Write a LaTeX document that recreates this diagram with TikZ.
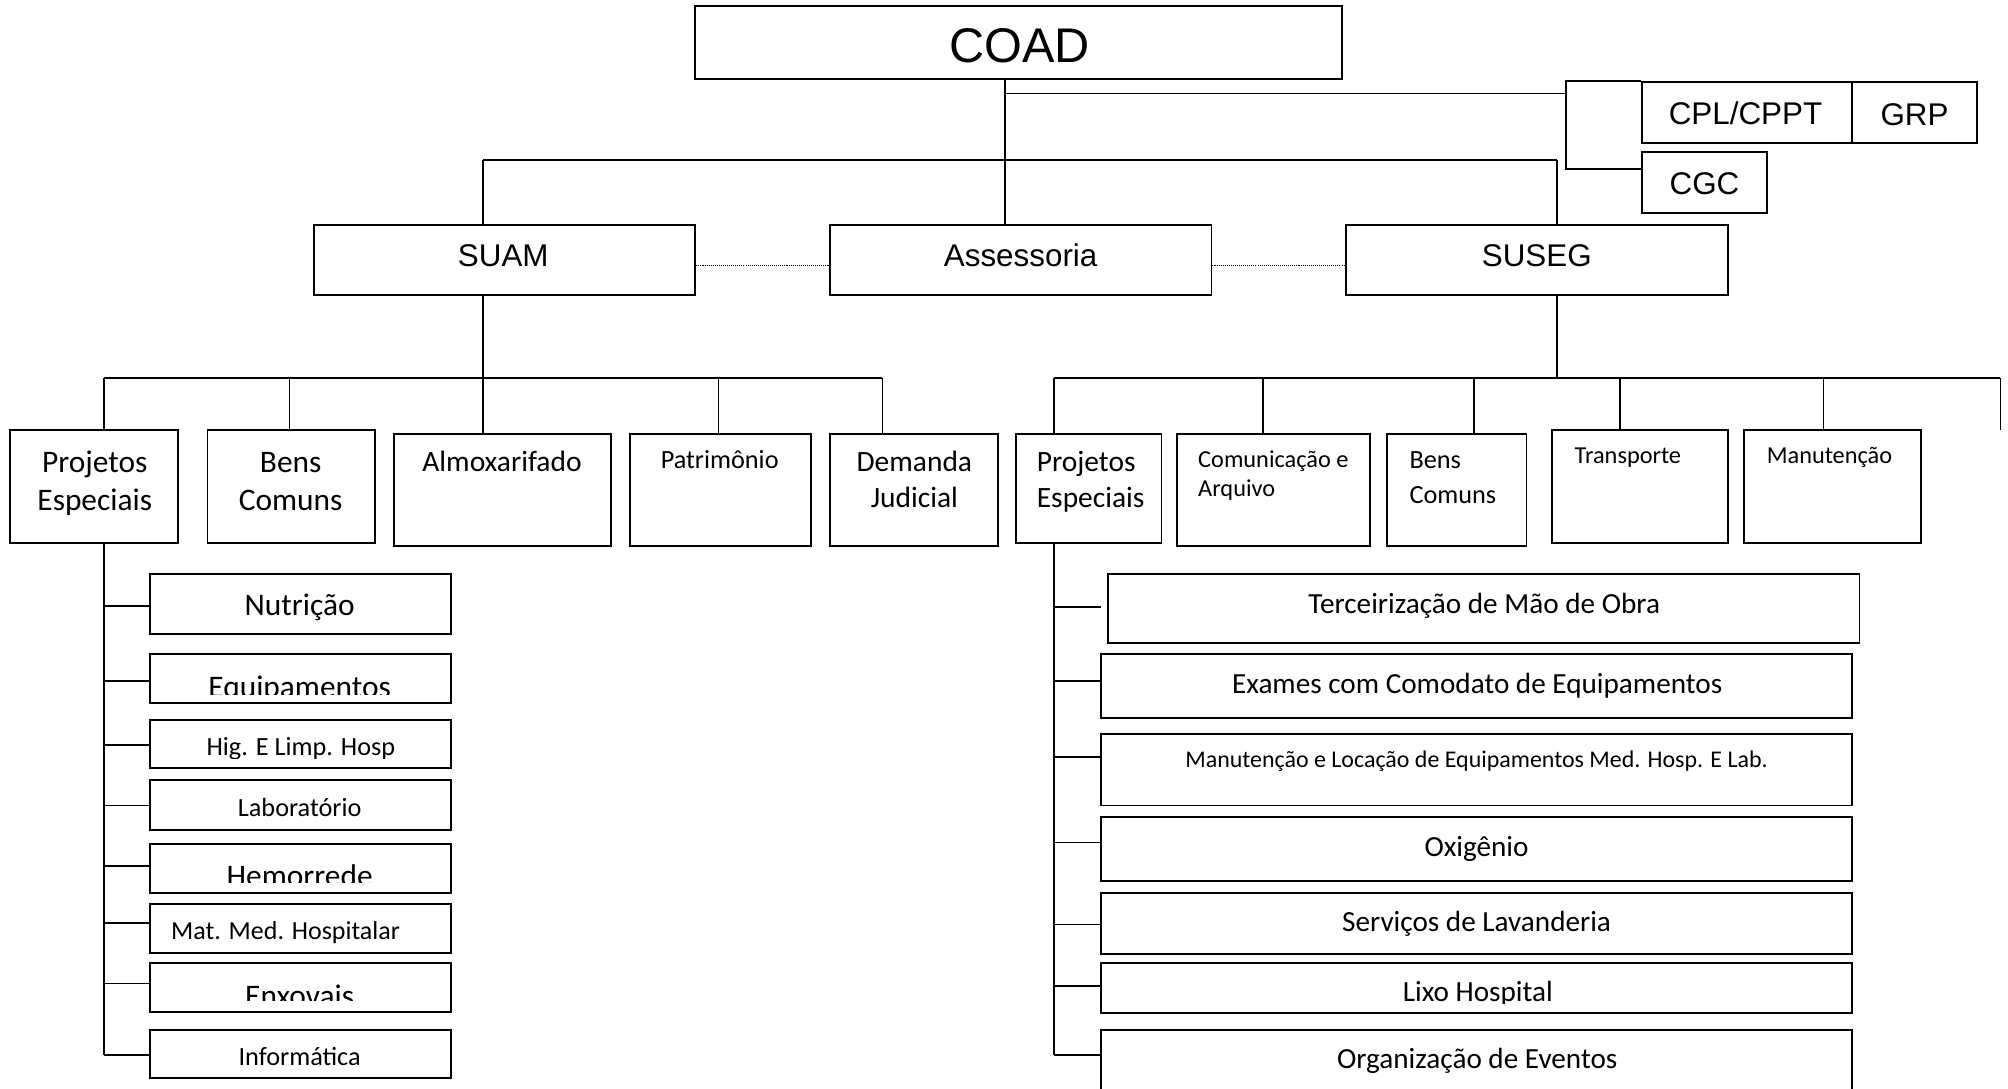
\documentclass[tikz,border=0pt]{standalone}
\usepackage{fontspec}
\setmainfont{Carlito}
\newfontfamily\arialf{Liberation Sans}
\newcommand\mybox[5]{\node[box, minimum width={(#4-#2)*1pt}, minimum height={(#5-#3)*1pt}] (#1) at ({(#2+#4)/2},{(#3+#5)/2}) {};}
\begin{document}
\begin{tikzpicture}[x=1pt,y=-1pt, line width=1.3pt,
  box/.style={draw, line width=1.5pt, inner sep=0pt},
  dots/.style={line width=0.8pt, dash pattern=on 0.8pt off 0.8pt},
  lbl/.style={anchor=base, inner sep=0pt},
  lblw/.style={anchor=base west, inner sep=0pt},
  fA38/.style={font=\arialf\fontsize{38}{44}\selectfont},
  fA/.style={font=\arialf\fontsize{24.5}{29}\selectfont},
  f245/.style={font=\fontsize{24.5}{30}\selectfont},
  f23/.style={font=\fontsize{23}{28}\selectfont},
  f228/.style={font=\fontsize{22.8}{28}\selectfont},
  f205/.style={font=\fontsize{20.5}{25}\selectfont},
  f203/.style={font=\fontsize{20.3}{25}\selectfont},
  f19/.style={font=\fontsize{19}{23}\selectfont},
  f187/.style={font=\fontsize{18.7}{23}\selectfont}]
\useasboundingbox (0,0) rectangle (1568,850);
\clip (0,0) rectangle (1568,850);

% ---- boxes
\mybox{coad}{543}{5}{1048}{62}
\mybox{cpl}{1282}{64}{1446}{112}
\mybox{grp}{1446}{64}{1544}{112}
\mybox{cgc}{1282}{119}{1380}{166}
\mybox{suam}{245}{176}{543}{230}
\mybox{ass}{648}{176}{946}{230}
\mybox{suseg}{1051}{176}{1349}{230}
\mybox{pe1}{8}{336}{139}{424}
\mybox{bc1}{162}{336}{293}{424}
\mybox{alm}{308}{339}{477}{426}
\mybox{pat}{492}{339}{633}{426}
\mybox{dem}{648}{339}{779}{426}
\mybox{pe2}{793}{339}{907}{424}
\mybox{com}{919}{339}{1070}{426}
\mybox{bc2}{1083}{339}{1192}{426}
\mybox{tra}{1212}{336}{1349}{424}
\mybox{man}{1362}{336}{1500}{424}
\mybox{nut}{117}{448}{352}{495}
\mybox{equ}{117}{511}{352}{549}
\mybox{hig}{117}{562}{352}{600}
\mybox{lab}{117}{609}{352}{648}
\mybox{hem}{117}{659}{352}{697}
\mybox{mat}{117}{706}{352}{744}
\mybox{enx}{117}{752}{352}{790}
\mybox{inf}{117}{804}{352}{842}
\mybox{ter}{865}{448}{1452}{502}
\mybox{exa}{860}{511}{1446}{561}
\mybox{mlo}{860}{573}{1446}{629}
\mybox{oxi}{860}{638}{1446}{688}
\mybox{ser}{860}{697}{1446}{745}
\mybox{lix}{860}{752}{1446}{791}
\mybox{org}{860}{804}{1446}{862}

% ---- labels
\node[lbl,fA38] (tcoad) at (796,49) {COAD};
\node[lbl,fA] (tcpl) at (1363,97) {CPL/CPPT};
\node[lbl,fA] (tgrp) at (1495,98) {GRP};
\node[lbl,fA] (tcgc) at (1331,152) {CGC};
\node[lbl,fA] (tsuam) at (393,208) {SUAM};
\node[lbl,fA] (tass) at (797,208) {Assessoria};
\node[lbl,fA] (tsuseg) at (1200,208) {SUSEG};

\node[lbl,f245] (tpe1a) at (74,369) {Projetos};
\node[lbl,f245] (tpe1b) at (74,399) {Especiais};
\node[lbl,f245] (tbc1a) at (227,369) {Bens};
\node[lbl,f245] (tbc1b) at (227,399) {Comuns};
\node[lbl,f23] (talm) at (392,368) {Almoxarifado};
\node[lbl,f205] (tpat) at (562,366) {Patrimônio};
\node[lbl,f23] (tdema) at (714,368) {Demanda};
\node[lbl,f23] (tdemb) at (714,396) {Judicial};

\node[lblw,f23] (tpe2a) at (809,368) {Projetos};
\node[lblw,f23] (tpe2b) at (809,396) {Especiais};
\node[lblw,f19] (tcoma) at (935,365) {Comunicação e};
\node[lblw,f19] (tcomb) at (935,388) {Arquivo};
\node[lblw,f205] (tbc2a) at (1100,366) {Bens};
\node[lblw,f205] (tbc2b) at (1100,393) {Comuns};
\node[lblw,f19] (ttra) at (1229,362) {Transporte};
\node[lblw,f19] (tman) at (1379,362) {Manutenção};

\node[lbl,f245] (tnut) at (234,481) {Nutrição};
\begin{scope}
  \clip (117,511) rectangle (352,542);
  \node[lbl,f245] (tequ) at (234,545) {Equipamentos};
\end{scope}
\begin{scope}
  \clip (117,562) rectangle (352,592);
  \node[lbl,f205] (thig) at (235,590) {Hig. E Limp. Hosp};
\end{scope}
\node[lbl,f205] (tlab) at (234,637.5) {Laboratório};
\begin{scope}
  \clip (117,659) rectangle (352,689);
  \node[lbl,f245] (them) at (234,692) {Hemorrede};
\end{scope}
\node[lblw,f203] (tmat) at (133,734) {Mat. Med. Hospitalar};
\begin{scope}
  \clip (117,752) rectangle (352,781.5);
  \node[lbl,f245] (tenx) at (234,786) {Enxovais};
\end{scope}
\node[lbl,f205] (tinf) at (234,832) {Informática};

\node[lbl,f228] (tter) at (1159,479) {Terceirização de Mão de Obra};
\node[lbl,f228] (texa) at (1153.5,541.5) {Exames com Comodato de Equipamentos};
\node[lbl,f187] (tmlo) at (1153,599) {Manutenção e Locação de Equipamentos Med. Hosp. E Lab.};
\node[lbl,f228] (toxi) at (1153,669) {Oxigênio};
\node[lbl,f228] (tser) at (1153,727.5) {Serviços de Lavanderia};
\begin{scope}
  \clip (860,752) rectangle (1446,783.5);
  \node[lbl,f228] (tlix) at (1154,782) {Lixo Hospital};
\end{scope}
\node[lbl,f228] (torg) at (1153.5,834) {Organização de Eventos};

% ---- connectors (top)
\coordinate (cA) at (785,73);
\coordinate (bk1) at (1223,73);
\coordinate (bkb) at (1223,132);
\coordinate (mL) at (377,125);
\coordinate (mR) at (1216,125);
\draw (coad.south -| cA) -- (ass.north -| cA);
\draw (cA) -- (bk1);
\draw (cpl.north west) -| (bkb) -- (bkb -| cgc.west);
\draw (mL) -- (mR);
\draw (mL) -- (mL |- suam.north);
\draw (mR) -- (mR |- suseg.north);
\draw[dots] ([yshift=-4pt]suam.east) -- ([yshift=-4pt]ass.west);
\draw[dots] ([yshift=-4pt]ass.east) -- ([yshift=-4pt]suseg.west);

% ---- SUAM bus
\coordinate (l1) at (81,295);
\coordinate (l2) at (226,295);
\coordinate (l3) at (377,295);
\coordinate (l4) at (561,295);
\coordinate (l5) at (689,295);
\draw (l3 |- suam.south) -- (l3);
\draw (l1) -- (l5);
\draw (l1) -- (l1 |- pe1.north);
\draw (l2) -- (l2 |- bc1.north);
\draw (l3) -- (l3 |- alm.north);
\draw (l4) -- (l4 |- pat.north);
\draw (l5) -- (l5 |- dem.north);

% ---- SUSEG bus
\coordinate (r1) at (823,295);
\coordinate (r2) at (986,295);
\coordinate (r3) at (1151,295);
\coordinate (r4) at (1265,295);
\coordinate (r5) at (1424,295);
\coordinate (r6) at (1562,295);
\coordinate (rEnd) at (1562,336);
\coordinate (r0) at (1216,295);
\draw (r0 |- suseg.south) -- (r0);
\draw (r1) -- (r6);
\draw (r1) -- (r1 |- pe2.north);
\draw (r2) -- (r2 |- com.north);
\draw (r3) -- (r3 |- bc2.north);
\draw (r4) -- (r4 |- tra.north);
\draw (r5) -- (r5 |- man.north);
\draw (r6) -- (rEnd);

% ---- left list
\coordinate (lt1) at (81,473);
\coordinate (lt2) at (81,532);
\coordinate (lt3) at (81,582);
\coordinate (lt4) at (81,629);
\coordinate (lt5) at (81,676);
\coordinate (lt6) at (81,721);
\coordinate (lt7) at (81,768);
\coordinate (lt8) at (81,824);
\draw (lt1 |- pe1.south) -- (lt8);
\draw (lt1) -- (lt1 -| nut.west);
\draw (lt2) -- (lt2 -| equ.west);
\draw (lt3) -- (lt3 -| hig.west);
\draw (lt4) -- (lt4 -| lab.west);
\draw (lt5) -- (lt5 -| hem.west);
\draw (lt6) -- (lt6 -| mat.west);
\draw (lt7) -- (lt7 -| enx.west);
\draw (lt8) -- (lt8 -| inf.west);

% ---- right list
\coordinate (rt1) at (823,474);
\coordinate (rt2) at (823,532);
\coordinate (rt3) at (823,591);
\coordinate (rt4) at (823,658);
\coordinate (rt5) at (823,722);
\coordinate (rt6) at (823,770);
\coordinate (rt7) at (823,824);
\coordinate (rt1e) at (860,474);
\draw (rt1 |- pe2.south) -- (rt7);
\draw (rt1) -- (rt1e);
\draw (rt2) -- (rt2 -| exa.west);
\draw (rt3) -- (rt3 -| mlo.west);
\draw (rt4) -- (rt4 -| oxi.west);
\draw (rt5) -- (rt5 -| ser.west);
\draw (rt6) -- (rt6 -| lix.west);
\draw (rt7) -- (rt7 -| org.west);
\end{tikzpicture}
\end{document}
